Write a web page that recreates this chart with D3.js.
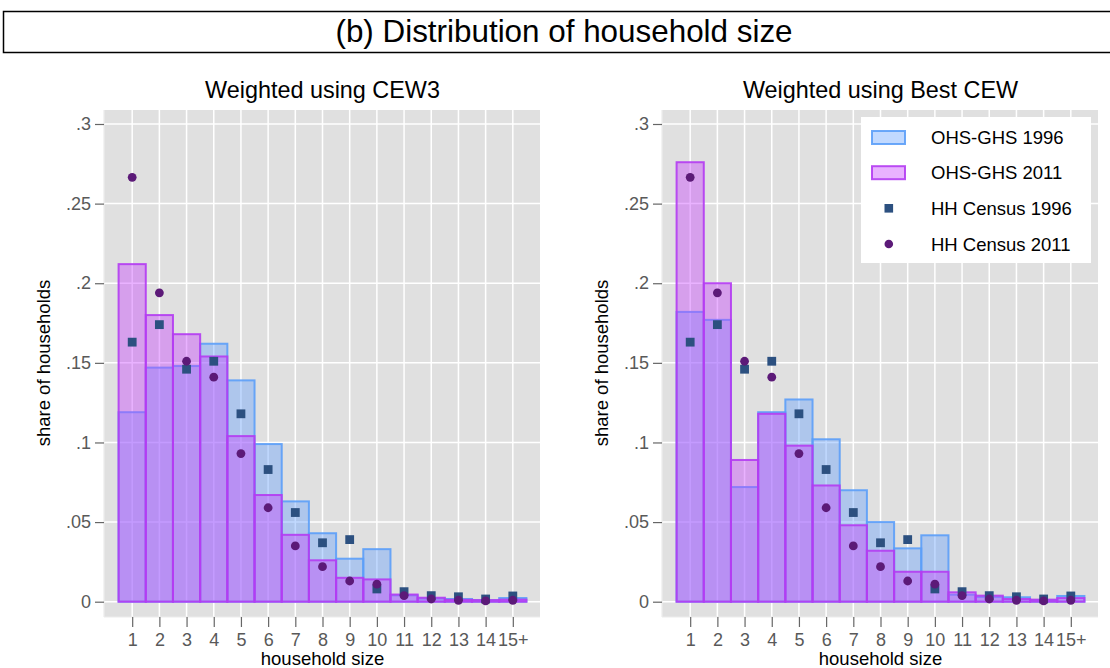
<!DOCTYPE html>
<html><head><meta charset="utf-8">
<script src="https://cdn.jsdelivr.net/npm/d3@7"></script>
<style>
body{margin:0;background:#fff;}
text{font-family:"Liberation Sans",Arial,sans-serif;}
</style></head>
<body><svg id="c" width="1110" height="668"></svg>
<script>
const sizes = ["1","2","3","4","5","6","7","8","9","10","11","12","13","14","15+"];
const ohs1996Cew3 = [0.119,0.147,0.148,0.162,0.139,0.099,0.063,0.043,0.027,0.033,0.004,0.002,0.0017,0.001,0.0023];
const ohs2011Cew3 = [0.212,0.180,0.168,0.154,0.104,0.067,0.042,0.026,0.015,0.014,0.0045,0.0025,0.0012,0.001,0.0013];
const ohs1996Best = [0.182,0.177,0.072,0.119,0.127,0.102,0.070,0.050,0.0335,0.0417,0.0044,0.003,0.0028,0.001,0.0036];
const ohs2011Best = [0.276,0.200,0.089,0.118,0.098,0.073,0.048,0.032,0.0188,0.0188,0.0059,0.0038,0.0017,0.0013,0.0023];
const census1996 = [0.163,0.174,0.146,0.151,0.118,0.083,0.056,0.037,0.039,0.008,0.0063,0.0038,0.0031,0.0017,0.0036];
const census2011 = [0.2665,0.194,0.151,0.141,0.093,0.059,0.035,0.022,0.013,0.011,0.0038,0.0017,0.0009,0.0005,0.0009];
const yTicks = [0,0.05,0.1,0.15,0.2,0.25,0.3];
const yTickLabels = ["0",".05",".1",".15",".2",".25",".3"];
const panelTitles = ["Weighted using CEW3","Weighted using Best CEW"];
const legendLabels = ["OHS-GHS 1996","OHS-GHS 2011","HH Census 1996","HH Census 2011"];

const svg = d3.select("#c");
const C = {
  blueFill:"#659fff", blueStroke:"#5c9ef8",
  pinkFill:"#c73eff", pinkStroke:"#b43cf2",
  sq:"#2c5080", dot:"#5c1a78", bg:"#e0e0e0", tick:"#666", lab:"#595959"
};

// Title box
svg.append("rect").attr("x",3.5).attr("y",11.5).attr("width",1110).attr("height",41)
  .attr("fill","#fff").attr("stroke","#000").attr("stroke-width",1.5);
svg.append("text").attr("x",564).attr("y",41.5).attr("text-anchor","middle")
  .attr("font-size",31.4).text("(b) Distribution of household size");

const panels = [
  {x0:105, x1:540, blue:ohs1996Cew3, pink:ohs2011Cew3, title:panelTitles[0], legend:false},
  {x0:663, x1:1098, blue:ohs1996Best, pink:ohs2011Best, title:panelTitles[1], legend:true}
];
const yTop=110, yBot=617;
const y = d3.scaleLinear().domain([0,0.3]).range([601.7,124]);

panels.forEach(p=>{
  const x = d3.scaleLinear().domain([0,16]).range([p.x0,p.x1]);
  const g = svg.append("g");
  g.append("rect").attr("x",p.x0-1).attr("y",yTop).attr("width",p.x1-p.x0+1).attr("height",yBot-yTop).attr("fill",C.bg);
  // gridlines
  g.selectAll(".gy").data(yTicks).join("line")
    .attr("x1",p.x0-1).attr("x2",p.x1).attr("y1",d=>y(d)).attr("y2",d=>y(d))
    .attr("stroke","#fff").attr("stroke-width",1.5);
  g.selectAll(".gx").data(sizes).join("line")
    .attr("x1",(d,i)=>x(i+1)).attr("x2",(d,i)=>x(i+1)).attr("y1",yTop).attr("y2",yBot)
    .attr("stroke","#fff").attr("stroke-width",1.5);
  // axis lines
  g.append("line").attr("x1",p.x0-1).attr("x2",p.x0-1).attr("y1",yTop).attr("y2",yBot).attr("stroke","#ececec").attr("stroke-width",1.2);
  g.append("line").attr("x1",p.x0-1).attr("x2",p.x1).attr("y1",yBot).attr("y2",yBot).attr("stroke","#ececec").attr("stroke-width",1.2);
  // bars
  const drawBars=(vals,fill,stroke)=>{
    g.append("g").selectAll("rect").data(vals).join("rect")
      .attr("x",(d,i)=>x(i+0.5)).attr("width",(d,i)=>x(i+1.5)-x(i+0.5))
      .attr("y",d=>y(d)).attr("height",d=>y(0)-y(d))
      .attr("fill",fill).attr("fill-opacity",0.4)
      .attr("stroke",stroke).attr("stroke-width",2).attr("stroke-opacity",0.9);
  };
  drawBars(p.blue,C.blueFill,C.blueStroke);
  drawBars(p.pink,C.pinkFill,C.pinkStroke);
  // markers
  g.append("g").selectAll("rect").data(census1996).join("rect")
    .attr("x",(d,i)=>x(i+1)-4.4).attr("y",d=>y(d)-4.4).attr("width",8.8).attr("height",8.8).attr("fill",C.sq);
  g.append("g").selectAll("circle").data(census2011).join("circle")
    .attr("cx",(d,i)=>x(i+1)).attr("cy",d=>y(d)).attr("r",4.4).attr("fill",C.dot);
  // y axis
  const ya = g.append("g").attr("transform",`translate(${p.x0-1},0)`)
    .call(d3.axisLeft(y).tickValues(yTicks).tickFormat((d,i)=>yTickLabels[i]).tickSize(9).tickPadding(4));
  ya.select(".domain").remove();
  ya.selectAll("line").attr("stroke",C.tick).attr("stroke-width",1.2);
  ya.selectAll("text").attr("font-size",18).attr("fill",C.lab).attr("font-family","Liberation Sans, Arial, sans-serif");
  // x axis
  const xa = g.append("g").attr("transform",`translate(0,${yBot})`)
    .call(d3.axisBottom(x).tickValues(d3.range(1,16)).tickFormat((d,i)=>sizes[i]).tickSize(10).tickPadding(6));
  xa.select(".domain").remove();
  xa.selectAll("line").attr("stroke",C.tick).attr("stroke-width",1.2);
  xa.selectAll("text").attr("font-size",18).attr("fill",C.lab).attr("font-family","Liberation Sans, Arial, sans-serif");
  // titles
  const cx=(p.x0+p.x1)/2;
  g.append("text").attr("x",cx).attr("y",97.5).attr("text-anchor","middle").attr("font-size",23.4).text(p.title);
  g.append("text").attr("x",cx).attr("y",665).attr("text-anchor","middle").attr("font-size",18.5).text("household size");
  g.append("text").attr("transform",`translate(${p.x0-55},${363}) rotate(-90)`).attr("text-anchor","middle")
    .attr("font-size",18.5).text("share of households");
  // legend
  if(p.legend){
    const lg = g.append("g");
    lg.append("rect").attr("x",861).attr("y",117).attr("width",230).attr("height",146).attr("fill","#fff");
    const rows=[137.5,172.7,208.3,244];
    [[C.blueFill,C.blueStroke],[C.pinkFill,C.pinkStroke]].forEach((c,i)=>{
      lg.append("rect").attr("x",872).attr("y",rows[i]-6.5).attr("width",33).attr("height",13)
        .attr("fill",c[0]).attr("fill-opacity",0.4).attr("stroke",c[1]).attr("stroke-width",2).attr("stroke-opacity",0.9);
    });
    lg.append("rect").attr("x",884.5).attr("y",rows[2]-4.3).attr("width",8.6).attr("height",8.6).attr("fill",C.sq);
    lg.append("circle").attr("cx",888.8).attr("cy",rows[3]).attr("r",4.3).attr("fill",C.dot);
    legendLabels.forEach((t,i)=>{
      lg.append("text").attr("x",931).attr("y",rows[i]+6.5).attr("font-size",18.5).text(t);
    });
  }
});
</script></body></html>
